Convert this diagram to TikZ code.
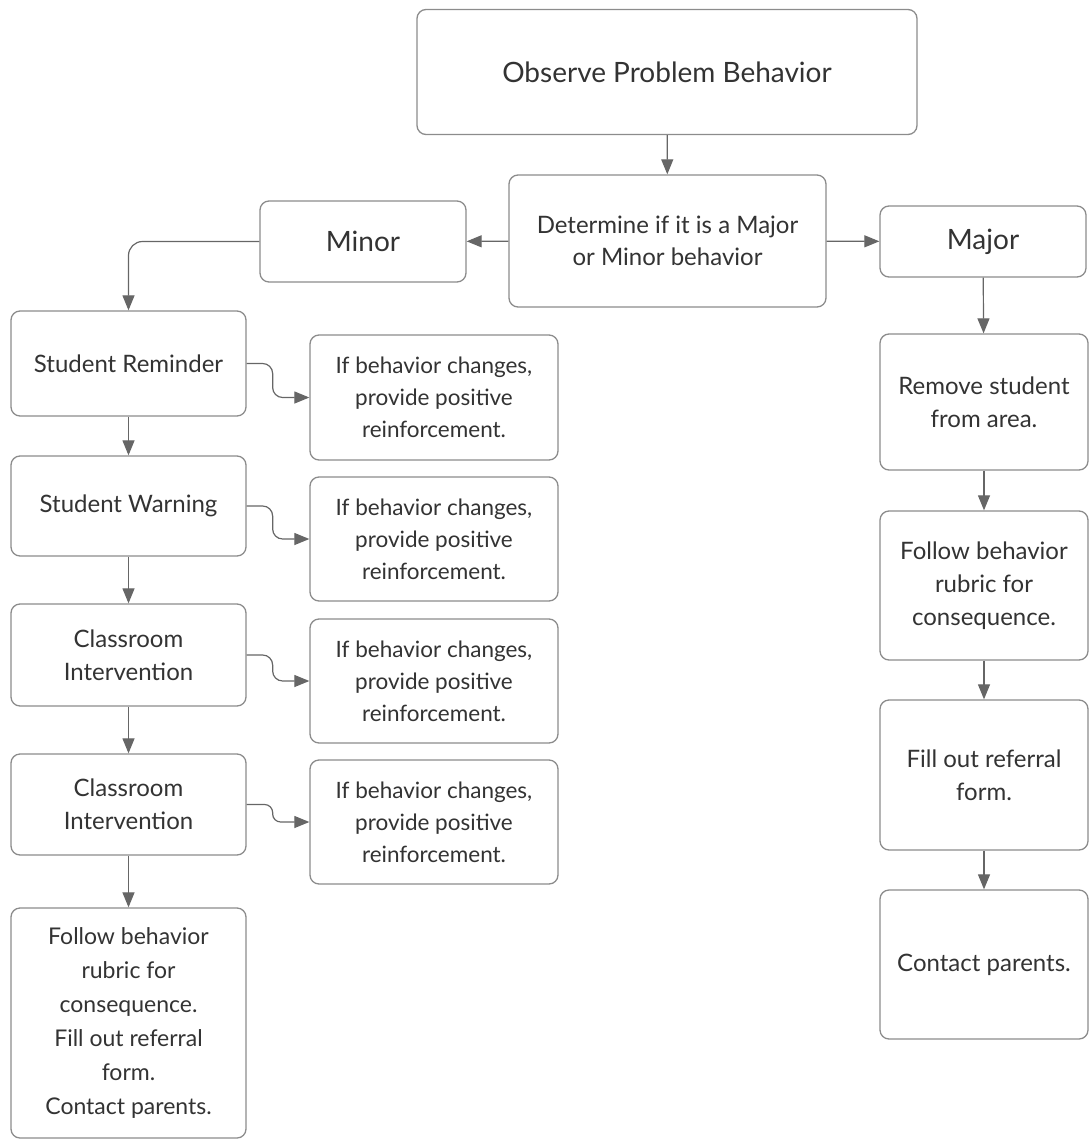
\documentclass[tikz,border=0pt]{standalone}
\usepackage{fontspec}
\setmainfont{Lato}
\usetikzlibrary{arrows.meta}
\definecolor{boxline}{HTML}{8C8C8C}
\definecolor{txt}{HTML}{333333}
\definecolor{lnk}{HTML}{666666}
\tikzset{
  box/.style={draw=boxline, line width=1.3pt, rounded corners=9pt, fill=white, align=center, text=txt, inner sep=2pt, font=\fontsize{24}{33}\selectfont},
  sidebox/.style={box, font=\fontsize{22.5}{32}\selectfont},
  conn/.style={draw=lnk, line width=1.2pt, -{Triangle[length=15pt,width=12pt]}},
}
\begin{document}
\begin{tikzpicture}[x=1pt,y=-1pt]
\useasboundingbox (0,0) rectangle (1088,1140);
% top
\node[box, minimum width=500pt, minimum height=125pt, font=\fontsize{28}{33}\selectfont] (obs) at (667,72) {Observe Problem Behavior};
\node[box, minimum width=317pt, minimum height=132pt, font=\fontsize{24}{32}\selectfont] (det) at (667.5,241) {Determine if it is a Major\\or Minor behavior};
\node[box, minimum width=206pt, minimum height=81pt, font=\fontsize{28}{33}\selectfont] (minor) at (363,241.5) {Minor};
\node[box, minimum width=206pt, minimum height=71pt, font=\fontsize{28}{33}\selectfont] (major) at (983,241.5) {Major};
% left column
\node[box, minimum width=235pt, minimum height=105pt] (sr) at (128.5,363.5) {Student Reminder};
\node[box, minimum width=235pt, minimum height=100pt] (sw) at (128.5,506) {Student Warning};
\node[box, minimum width=235pt, minimum height=102pt] (ci1) at (128.5,655) {Classroom\\Intervention};
\node[box, minimum width=235pt, minimum height=101pt] (ci2) at (128.5,804.5) {Classroom\\Intervention};
\node[box, minimum width=235pt, minimum height=230pt, font=\fontsize{23}{34}\selectfont] (fin) at (128.5,1023) {Follow behavior\\rubric for\\consequence.\\Fill out referral\\form.\\Contact parents.};
% side boxes
\node[sidebox, minimum width=248pt, minimum height=125pt] (s1) at (434,397.5) {If behavior changes,\\provide positive\\reinforcement.};
\node[sidebox, minimum width=248pt, minimum height=124pt] (s2) at (434,539) {If behavior changes,\\provide positive\\reinforcement.};
\node[sidebox, minimum width=248pt, minimum height=124pt] (s3) at (434,681) {If behavior changes,\\provide positive\\reinforcement.};
\node[sidebox, minimum width=248pt, minimum height=124pt] (s4) at (434,822) {If behavior changes,\\provide positive\\reinforcement.};
% right column
\node[box, minimum width=208pt, minimum height=136pt] (rem) at (984,402) {Remove student\\from area.};
\node[box, minimum width=208pt, minimum height=149pt] (fol) at (984,585.5) {Follow behavior\\rubric for\\consequence.};
\node[box, minimum width=208pt, minimum height=150pt] (fill) at (984,775) {Fill out referral\\form.};
\node[box, minimum width=208pt, minimum height=149pt] (con) at (984,964.5) {Contact parents.};
% connectors
\draw[conn] (obs) -- (det);
\draw[conn] (det) -- (minor);
\draw[conn] (det) -- (major);
\draw[conn, rounded corners=14pt] (minor.west) -| (sr.north);
\draw[conn] (major) -- (rem);
\draw[conn] (sr) -- (sw);
\draw[conn] (sw) -- (ci1);
\draw[conn] (ci1) -- (ci2);
\draw[conn] (ci2) -- (fin);
\draw[conn] (rem) -- (fol);
\draw[conn] (fol) -- (fill);
\draw[conn] (fill) -- (con);
\draw[conn, rounded corners=10pt] (sr.east) -- ++(26,0) |- (s1.west);
\draw[conn, rounded corners=10pt] (sw.east) -- ++(26,0) |- (s2.west);
\draw[conn, rounded corners=10pt] (ci1.east) -- ++(26,0) |- (s3.west);
\draw[conn, rounded corners=8pt] (ci2.east) -- ++(26,0) |- (s4.west);
\end{tikzpicture}
\end{document}
